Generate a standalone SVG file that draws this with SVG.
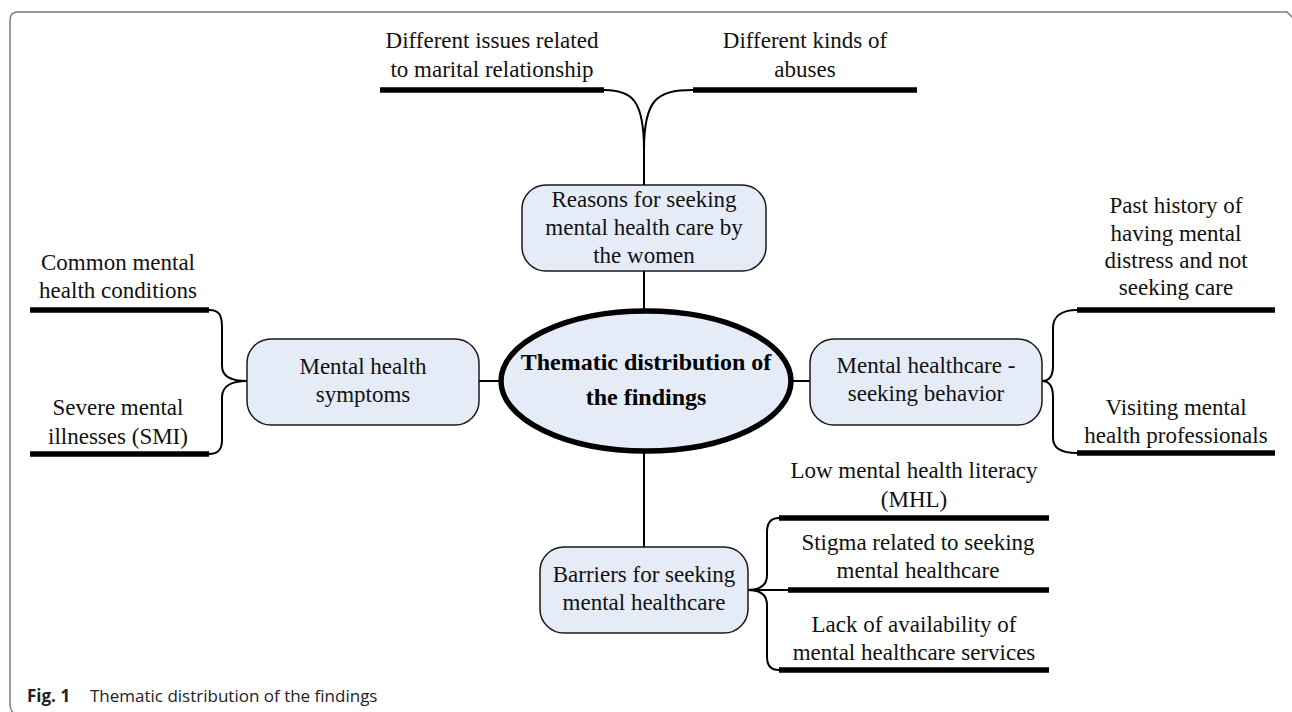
<svg xmlns="http://www.w3.org/2000/svg" width="1292" height="712" viewBox="0 0 1292 712">
<style>
  .bg { fill: #ffffff; }
  .frame { fill: none; stroke: #7a7a7a; stroke-width: 1.5; }
  .box { fill: #e5ecf7; stroke: #1a1a1a; stroke-width: 1.5; }
  .core { fill: #e5ecf7; stroke: #000; stroke-width: 5.5; }
  .conn { fill: none; stroke: #000; stroke-width: 2; }
  .bar { fill: none; stroke: #000; stroke-width: 5.5; }
  .t { font-family: "Liberation Serif", "Times New Roman", serif; font-size: 23px; fill: #111; text-anchor: middle; }
  .tb { font-family: "Liberation Serif", "Times New Roman", serif; font-size: 24px; font-weight: bold; fill: #000; text-anchor: middle; }
  .cap { font-family: "Open Sans", "Noto Sans", sans-serif; font-size: 17px; fill: #222; }
</style>
<rect class="bg" x="0" y="0" width="1292" height="712"/>
<path class="frame" d="M1293,18 L1287,12 L18,12 Q10,12 10,20 L10,704 Q10,711 15,714"/>

<g id="connectors">
  <!-- top -->
  <path class="conn" d="M604,90 C632,90 644,100 644,150 L644,185"/>
  <path class="conn" d="M693,90 C656,90 644,100 644,150"/>
  <path class="conn" d="M644,271 L644,310"/>
  <!-- left -->
  <path class="conn" d="M479,381 L500,381"/>
  <path class="conn" d="M209,310 C220,310 222,316 222,328 L222,366 C222,377 232,381 247,381"/>
  <path class="conn" d="M247,381 C232,381 222,386 222,397 L222,440 C222,450 218,454 209,454"/>
  <!-- right -->
  <path class="conn" d="M792,381 L810,381"/>
  <path class="conn" d="M1077,310 C1062,310 1053,316 1053,328 L1053,366 C1053,376 1049,381 1042,381"/>
  <path class="conn" d="M1042,381 C1049,381 1053,386 1053,397 L1053,438 C1053,448 1062,453 1077,453"/>
  <!-- bottom -->
  <path class="conn" d="M644,452 L644,547"/>
  <path class="conn" d="M748,590 L790,590"/>
  <path class="conn" d="M779,518 C771,518 767,522 767,532 L767,575 C767,585 760,590 748,590"/>
  <path class="conn" d="M748,590 C760,590 767,595 767,605 L767,657 C767,666 771,670 779,670"/>
</g>

<g id="central">
  <ellipse class="core" cx="646" cy="381" rx="145" ry="70"/>
  <text class="tb" x="646" y="370">Thematic distribution of</text>
  <text class="tb" x="646" y="405">the findings</text>
</g>

<g id="reasons">
  <rect class="box" x="522" y="185" width="244" height="86" rx="24"/>
  <text class="t" x="644" y="207">Reasons for seeking</text>
  <text class="t" x="644" y="235">mental health care by</text>
  <text class="t" x="644" y="263">the women</text>
</g>

<g id="symptoms">
  <rect class="box" x="247" y="339" width="232" height="86" rx="24"/>
  <text class="t" x="363" y="374">Mental health</text>
  <text class="t" x="363" y="402">symptoms</text>
</g>

<g id="seeking">
  <rect class="box" x="810" y="339" width="232" height="86" rx="24"/>
  <text class="t" x="926" y="373">Mental healthcare -</text>
  <text class="t" x="926" y="401">seeking behavior</text>
</g>

<g id="barriers">
  <rect class="box" x="540" y="547" width="208" height="86" rx="24"/>
  <text class="t" x="644" y="582">Barriers for seeking</text>
  <text class="t" x="644" y="610">mental healthcare</text>
</g>

<g id="marital">
  <line class="bar" x1="380" y1="90" x2="604" y2="90"/>
  <text class="t" x="492" y="48">Different issues related</text>
  <text class="t" x="492" y="77">to marital relationship</text>
</g>

<g id="abuses">
  <line class="bar" x1="693" y1="90" x2="917" y2="90"/>
  <text class="t" x="805" y="48">Different kinds of</text>
  <text class="t" x="805" y="77">abuses</text>
</g>

<g id="common">
  <line class="bar" x1="30" y1="310" x2="209" y2="310"/>
  <text class="t" x="118" y="270">Common mental</text>
  <text class="t" x="118" y="298">health conditions</text>
</g>

<g id="smi">
  <line class="bar" x1="30" y1="454" x2="209" y2="454"/>
  <text class="t" x="118" y="415">Severe mental</text>
  <text class="t" x="118" y="444">illnesses (SMI)</text>
</g>

<g id="past">
  <line class="bar" x1="1077" y1="310" x2="1275" y2="310"/>
  <text class="t" x="1176" y="213">Past history of</text>
  <text class="t" x="1176" y="241">having mental</text>
  <text class="t" x="1176" y="268">distress and not</text>
  <text class="t" x="1176" y="295">seeking care</text>
</g>

<g id="visiting">
  <line class="bar" x1="1077" y1="453" x2="1275" y2="453"/>
  <text class="t" x="1176" y="415">Visiting mental</text>
  <text class="t" x="1176" y="443">health professionals</text>
</g>

<g id="mhl">
  <line class="bar" x1="779" y1="518" x2="1049" y2="518"/>
  <text class="t" x="914" y="478">Low mental health literacy</text>
  <text class="t" x="914" y="507">(MHL)</text>
</g>

<g id="stigma">
  <line class="bar" x1="788" y1="590" x2="1049" y2="590"/>
  <text class="t" x="918" y="550">Stigma related to seeking</text>
  <text class="t" x="918" y="578">mental healthcare</text>
</g>

<g id="availability">
  <line class="bar" x1="779" y1="670" x2="1049" y2="670"/>
  <text class="t" x="914" y="632">Lack of availability of</text>
  <text class="t" x="914" y="660">mental healthcare services</text>
</g>

<g id="caption">
  <text class="cap" x="27" y="702"><tspan font-weight="bold">Fig. 1</tspan><tspan x="90">Thematic distribution of the findings</tspan></text>
</g>
</svg>
